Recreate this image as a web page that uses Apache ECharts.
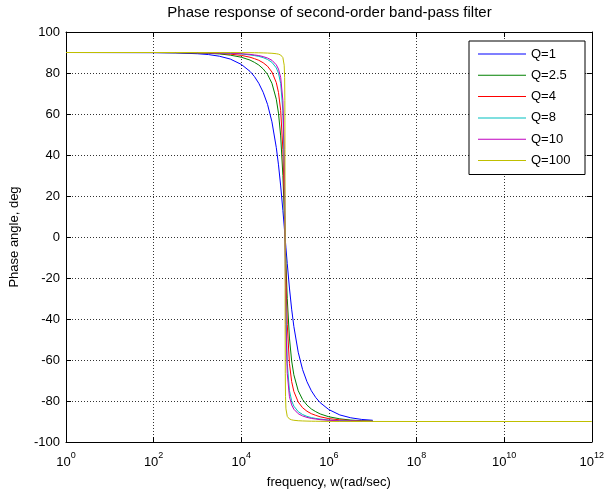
<!DOCTYPE html>
<html>
<head>
<meta charset="utf-8">
<script src="https://cdn.jsdelivr.net/npm/echarts@6/dist/echarts.min.js"></script>
<style>html,body{margin:0;padding:0;background:#fff;}#c{width:607px;height:494px;}</style>
</head>
<body>
<div id="c"></div>
<script>
// frequency samples (rad/sec)
var freq = [1, 100, 316.2, 1000, 1778, 3162, 5623, 10000, 15849, 19953, 25119, 31623, 39811, 50119, 63096, 70795, 79433, 89125, 95499, 97724, 98855, 99541,
  100000,
  100462, 101158, 102329, 104713, 112202, 125893, 141254, 158489, 199526, 251189, 316228, 398107, 501187, 630957, 1000000, 1778279, 3162278, 5623413, 10000000];
var freqTail = [100000000, 10000000000, 1000000000000];

var q1 = [90, 89.9, 89.8, 89.4, 89.0, 88.2, 86.8, 84.2, 80.8, 78.3, 75.0, 70.6, 64.7, 56.2, 43.6, 35.2, 24.9, 13.0, 5.3, 2.6, 1.3, 0.5,
  0,
  -0.5, -1.3, -2.6, -5.3, -13.0, -24.9, -35.2, -43.6, -56.2, -64.7, -70.6, -75.0, -78.3, -80.8, -84.2, -86.8, -88.2, -89.0, -89.4];
var q25 = [90, 90, 89.9, 89.8, 89.6, 89.3, 88.7, 87.7, 86.3, 85.2, 83.9, 82.0, 79.3, 75.0, 67.2, 60.4, 49.3, 30.0, 13.0, 6.6, 3.3, 1.3,
  0,
  -1.3, -3.3, -6.6, -13.0, -30.0, -49.3, -60.4, -67.2, -75.0, -79.3, -82.0, -83.9, -85.2, -86.3, -87.7, -88.7, -89.3, -89.6, -89.8];
var q4 = [90, 90, 89.95, 89.86, 89.75, 89.5, 89.2, 88.6, 87.7, 87.0, 86.2, 85.0, 83.3, 80.5, 75.3, 70.5, 61.7, 42.7, 20.2, 10.4, 5.3, 2.1,
  0,
  -2.1, -5.3, -10.4, -20.2, -42.7, -61.7, -70.5, -75.3, -80.5, -83.3, -85.0, -86.2, -87.0, -87.7, -88.6, -89.2, -89.5, -89.75, -89.86];
var q8 = [90, 90, 89.98, 89.93, 89.87, 89.77, 89.6, 89.3, 88.8, 88.5, 88.1, 87.5, 86.6, 85.2, 82.5, 79.9, 74.9, 61.6, 36.4, 20.2, 10.4, 4.2,
  0,
  -4.2, -10.4, -20.2, -36.4, -61.6, -74.9, -79.9, -82.5, -85.2, -86.6, -87.5, -88.1, -88.5, -88.8, -89.3, -89.6, -89.77, -89.87, -89.93];
var q10 = [90, 90, 89.98, 89.94, 89.9, 89.8, 89.7, 89.4, 89.1, 88.8, 88.5, 88.0, 87.3, 86.2, 84.0, 81.9, 77.9, 66.6, 42.6, 24.7, 13.0, 5.3,
  0,
  -5.3, -13.0, -24.7, -42.6, -66.6, -77.9, -81.9, -84.0, -86.2, -87.3, -88.0, -88.5, -88.8, -89.1, -89.4, -89.7, -89.8, -89.9, -89.94];
var q100 = [90, 90, 90, 89.99, 89.99, 89.98, 89.97, 89.94, 89.91, 89.88, 89.85, 89.8, 89.73, 89.62, 89.4, 89.19, 88.77, 87.52, 83.8, 77.8, 66.5, 42.6,
  0,
  -42.6, -66.5, -77.8, -83.8, -87.52, -88.77, -89.19, -89.4, -89.62, -89.73, -89.8, -89.85, -89.88, -89.91, -89.94, -89.97, -89.98, -89.99, -89.99,
  -90, -90, -90];

var seriesNames = ['Q=1', 'Q=2.5', 'Q=4', 'Q=8', 'Q=10', 'Q=100'];
var seriesColors = ['#0000FF', '#008000', '#FF0000', '#00BFBF', '#BF00BF', '#BFBF00'];
var seriesValues = [q1, q25, q4, q8, q10, q100];

var xTickExps = [0, 2, 4, 6, 8, 10, 12];
var yTicks = [-100, -80, -60, -40, -20, 0, 20, 40, 60, 80, 100];

var allFreq = freq.concat(freqTail);
var FONT = 'Liberation Sans, Arial, sans-serif';

var series = seriesValues.map(function (vals, i) {
  return {
    name: seriesNames[i],
    type: 'line',
    showSymbol: false,
    symbol: 'none',
    animation: false,
    lineStyle: { width: 1, color: seriesColors[i] },
    itemStyle: { color: seriesColors[i] },
    data: vals.map(function (v, k) { return [allFreq[k], v]; })
  };
});

var chart = echarts.init(document.getElementById('c'), null, { renderer: 'canvas' });
chart.setOption({
  animation: false,
  backgroundColor: '#fff',
  textStyle: { fontFamily: FONT },
  title: {
    text: 'Phase response of second-order band-pass filter',
    left: 329.5, top: 5, textAlign: 'center', padding: 0,
    textStyle: { fontFamily: FONT, fontSize: 15, fontWeight: 'normal', color: '#000' }
  },
  grid: { left: 66, right: 14, top: 32, bottom: 49, containLabel: false },
  legend: {
    orient: 'vertical', left: 469, top: 41,
    padding: [6, 10, 7, 9],
    backgroundColor: '#fff', borderColor: '#000', borderWidth: 1,
    itemWidth: 48, itemHeight: 1, itemGap: 7.3,
    icon: 'rect',
    data: seriesNames,
    textStyle: { fontFamily: FONT, fontSize: 13, color: '#000', lineHeight: 14, width: 44 }
  },
  xAxis: [{
    type: 'log', logBase: 10, min: 1, max: 1e12, interval: 2,
    name: 'frequency, w(rad/sec)', nameLocation: 'middle', nameGap: 34,
    nameTextStyle: { fontFamily: FONT, fontSize: 13, color: '#000' },
    axisLine: { show: true, onZero: false, lineStyle: { color: '#000', width: 1 } },
    axisTick: { show: true, inside: true, length: 5, lineStyle: { color: '#000' } },
    minorTick: { show: false },
    axisLabel: {
      margin: 9, color: '#000',
      formatter: function (v) {
        var e = Math.round(Math.log(v) / Math.LN10);
        return '{b|10}{s|' + e + '}';
      },
      rich: {
        b: { fontFamily: FONT, fontSize: 13, color: '#000', lineHeight: 18, verticalAlign: 'bottom' },
        s: { fontFamily: FONT, fontSize: 9, color: '#000', lineHeight: 18, verticalAlign: 'top' }
      }
    },
    splitLine: { show: true, lineStyle: { color: '#333', type: [1, 2], width: 1 } }
  }, {
    type: 'log', logBase: 10, min: 1, max: 1e12, interval: 2, position: 'top',
    axisLine: { show: true, onZero: false, lineStyle: { color: '#000', width: 1 } },
    axisTick: { show: true, inside: true, length: 5, lineStyle: { color: '#000' } },
    axisLabel: { show: false }, splitLine: { show: false }
  }],
  yAxis: [{
    type: 'value', min: -100, max: 100, interval: 20,
    name: 'Phase angle, deg', nameLocation: 'middle', nameGap: 45,
    nameTextStyle: { fontFamily: FONT, fontSize: 13, color: '#000' },
    axisLine: { show: true, onZero: false, lineStyle: { color: '#000', width: 1 } },
    axisTick: { show: true, inside: true, length: 5, lineStyle: { color: '#000' } },
    axisLabel: { margin: 6, color: '#000', fontFamily: FONT, fontSize: 13 },
    splitLine: { show: true, lineStyle: { color: '#333', type: [1, 2], width: 1 } }
  }, {
    type: 'value', min: -100, max: 100, interval: 20, position: 'right',
    axisLine: { show: true, onZero: false, lineStyle: { color: '#000', width: 1 } },
    axisTick: { show: true, inside: true, length: 5, lineStyle: { color: '#000' } },
    axisLabel: { show: false }, splitLine: { show: false }
  }],
  series: series
});
</script>
</body>
</html>
